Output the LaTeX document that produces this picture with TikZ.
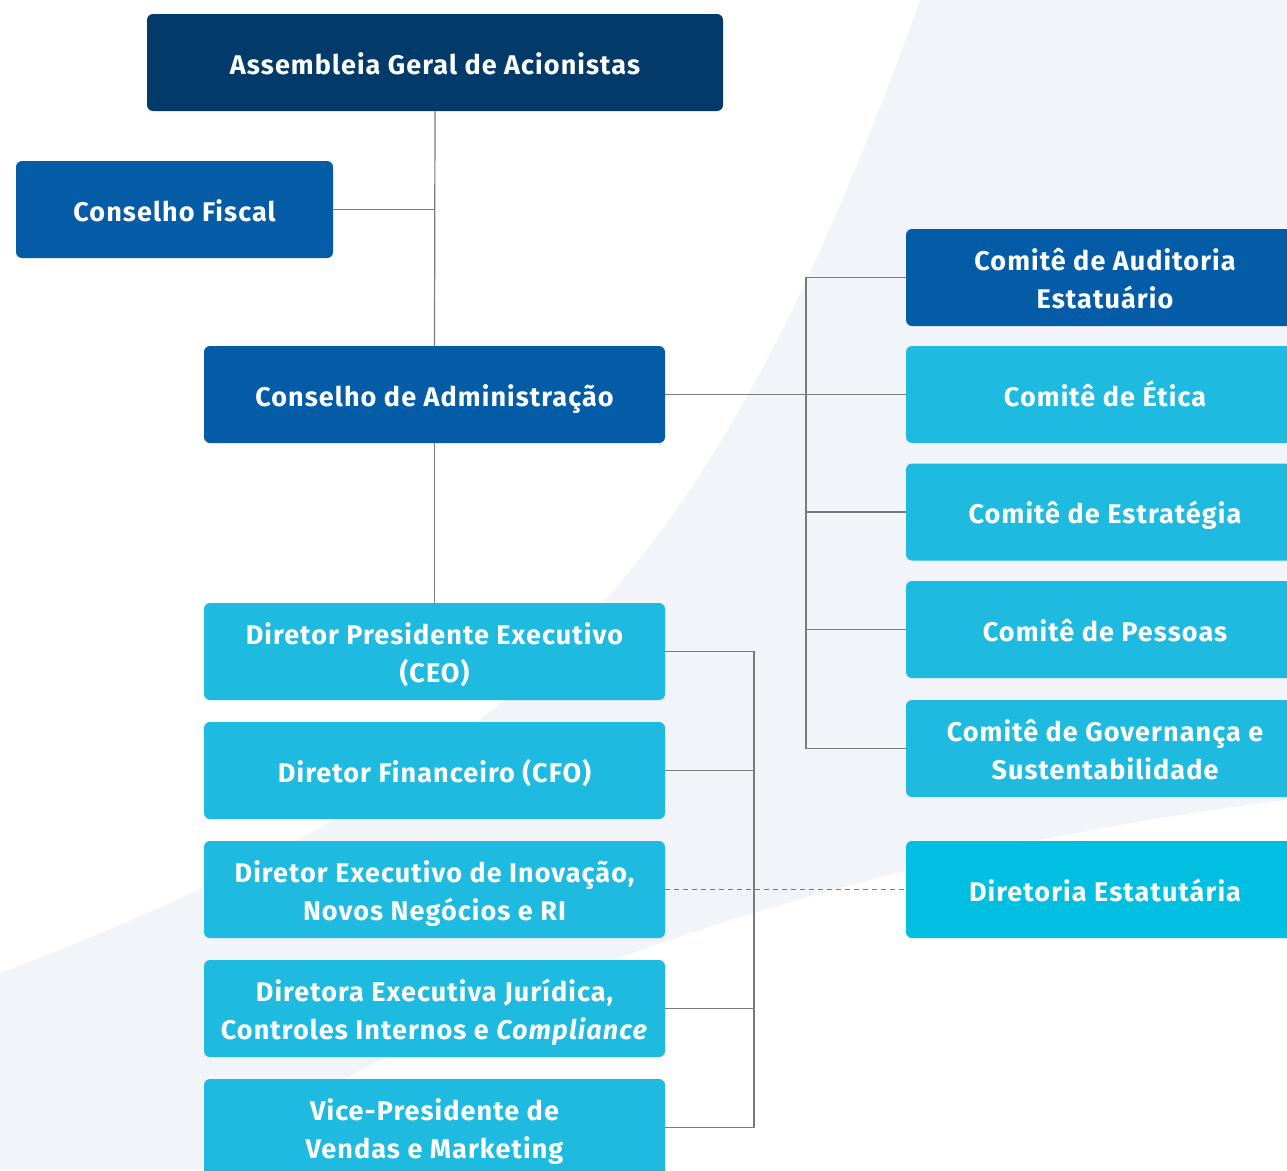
\documentclass[tikz,border=0pt]{standalone}
\usepackage{fontspec}
\setmainfont{Fira Sans}[LetterSpace=4]
\definecolor{navy}{RGB}{2,58,106}
\definecolor{dblue}{RGB}{5,92,166}
\definecolor{cyanbox}{RGB}{30,186,223}
\definecolor{cyandeep}{RGB}{0,191,224}
\definecolor{bgband}{RGB}{241,244,249}
\definecolor{linegray}{RGB}{122,122,122}
\begin{document}
\begin{tikzpicture}[x=1pt,y=-1pt,
  box/.style={rounded corners=6pt, inner sep=0pt, align=center, text=white,
    font=\fontsize{27}{38}\selectfont\bfseries, anchor=center,
    text height=23.6pt, text depth=0pt},
  twoline/.style={text height=61.6pt, text depth=0pt},
  leftbox/.style={box, minimum width=461pt, minimum height=97pt},
  rightbox/.style={box, minimum width=398pt, minimum height=97pt},
  conn/.style={draw=linegray, line width=1.2pt},
  dashconn/.style={draw=linegray, line width=1.2pt, dash pattern=on 5pt off 4pt}]
\useasboundingbox (0,0) rectangle (1287,1170);
\clip (0,0) rectangle (1287,1170);
\fill[white] (0,0) rectangle (1287,1170);
% background band
\fill[bgband] (920,0) -- (1287,0) -- (1287,800)
  .. controls (863,851) and (428,999) .. (200,1170) -- (0,1170) -- (0,973)
  .. controls (528,772) and (712,578) .. (920,0) -- cycle;
% bus coordinates
\coordinate (cbus) at (806,0);
\coordinate (dbus) at (754,0);
% nodes
\node[box, fill=navy, minimum width=576pt, minimum height=97pt] (assembleia) at (435,62.5) {Assembleia Geral de Acionistas};
\node[box, fill=dblue, minimum width=317pt, minimum height=97pt] (fiscal) at (174.5,209.5) {Conselho Fiscal};
\node[leftbox, fill=dblue] (conselho) at (434.5,394.5) {Conselho de Administração};
\node[leftbox, twoline, fill=cyanbox] (ceo) at (434.5,651.5) {Diretor Presidente Executivo\\(CEO)};
\node[leftbox, fill=cyanbox] (cfo) at (434.5,770.5) {Diretor Financeiro (CFO)};
\node[leftbox, twoline, fill=cyanbox] (inov) at (434.5,889.5) {Diretor Executivo de Inovação,\\Novos Negócios e RI};
\node[leftbox, twoline, fill=cyanbox] (jur) at (434.5,1008.5) {Diretora Executiva Jurídica,\\Controles Internos e \textit{Compliance}};
\node[leftbox, twoline, fill=cyanbox] (vp) at (434.5,1127.5) {Vice-Presidente de\\Vendas e Marketing};
\node[rightbox, twoline, fill=dblue] (audit) at (1105,277.5) {Comitê de Auditoria\\Estatuário};
\node[rightbox, fill=cyanbox] (etica) at (1105,394.5) {Comitê de Ética};
\node[rightbox, fill=cyanbox] (estrategia) at (1105,512) {Comitê de Estratégia};
\node[rightbox, fill=cyanbox] (pessoas) at (1105,629.5) {Comitê de Pessoas};
\node[rightbox, twoline, fill=cyanbox] (governanca) at (1105,748.5) {Comitê de Governança e\\Sustentabilidade};
\node[rightbox, fill=cyandeep] (estatutaria) at (1105,889.5) {Diretoria Estatutária};
% connectors
\draw[conn] (assembleia.south) -- (conselho.north);
\draw[conn] (fiscal.east) -- (fiscal.east -| assembleia.south);
\draw[conn] (conselho.south) -- (ceo.north);
\draw[conn] (conselho.east) -- (etica.west);
\draw[conn] (audit.west) -- (audit.west -| cbus) -- (governanca.west -| cbus) -- (governanca.west);
\draw[conn] (estrategia.west) -- (estrategia.west -| cbus);
\draw[conn] (pessoas.west) -- (pessoas.west -| cbus);
\draw[conn] (ceo.east) -- (ceo.east -| dbus) -- (vp.east -| dbus) -- (vp.east);
\draw[conn] (cfo.east) -- (cfo.east -| dbus);
\draw[conn] (jur.east) -- (jur.east -| dbus);
\draw[dashconn] (inov.east) -- (estatutaria.west);
\end{tikzpicture}
\end{document}
